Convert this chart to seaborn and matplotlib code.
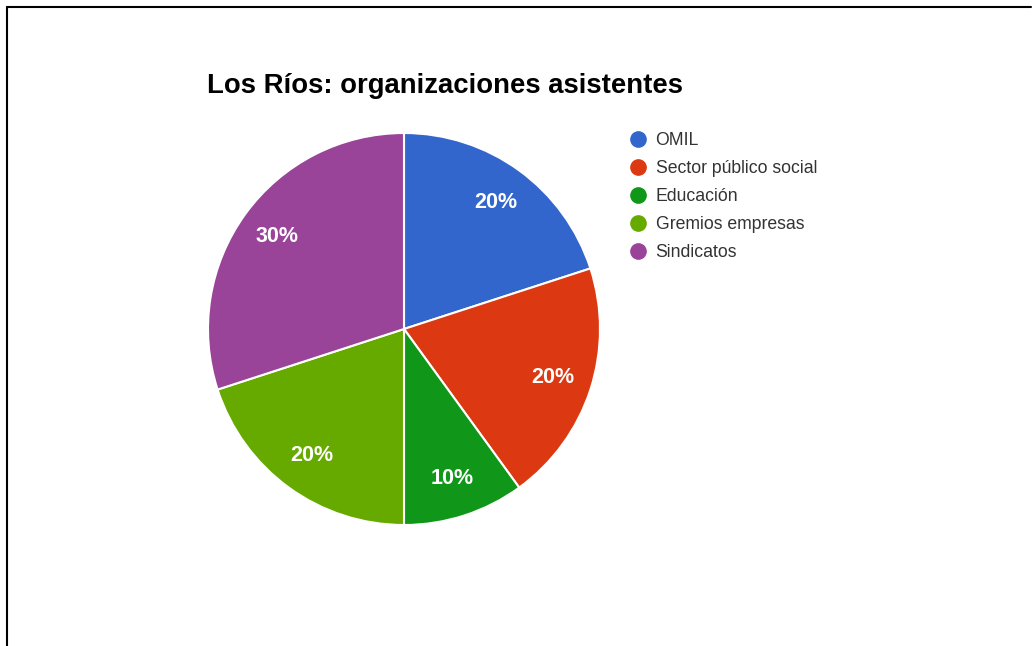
import matplotlib
matplotlib.use("Agg")
import matplotlib.pyplot as plt
import seaborn as sns
from matplotlib.lines import Line2D

categories = ["OMIL", "Sector público social", "Educación", "Gremios empresas", "Sindicatos"]
values = [20, 20, 10, 20, 30]
colors = ["#3366cc", "#dc3912", "#109618", "#66aa00", "#994499"]
title = "Los Ríos: organizaciones asistentes"

sns.set_theme(style="white")
plt.rcParams['font.family'] = ['Liberation Sans', 'DejaVu Sans']

W, H = 1032, 646
fig = plt.figure(figsize=(W / 100, H / 100), dpi=100)
fig.patch.set_facecolor("white")

# pie area: center (404, 329), radius 196 px
ax = fig.add_axes([208 / W, (H - 525) / H, 392 / W, 392 / H])
wedges, texts, autotexts = ax.pie(
    values, colors=colors, startangle=90, counterclock=False,
    autopct=lambda p: f"{p:.0f}%", pctdistance=0.8,
    wedgeprops=dict(edgecolor="white", linewidth=1.5),
    textprops=dict(color="white", fontsize=15.5, fontweight="bold"))
ax.set_aspect("equal")
ax.set_xlim(-1, 1)
ax.set_ylim(-1, 1)

fig.text(207 / W, 1 - 86 / H, title, fontsize=19.8, fontweight="bold",
         color="#000000", va="center", ha="left")

handles = [Line2D([], [], marker="o", linestyle="", markersize=11,
                  markerfacecolor=c, markeredgecolor=c) for c in colors]
fig.legend(handles, categories, loc="upper left",
           bbox_to_anchor=(622 / W, 1 - 125 / H), frameon=False,
           fontsize=12.7, labelcolor="#333333", handletextpad=0.5,
           labelspacing=0.62, handlelength=1.0, borderaxespad=0)

# frame of the screenshot: top and left lines
fig.add_artist(Line2D([7 / W, 1031 / W], [1 - 7 / H, 1 - 7 / H], color="black", linewidth=1.5))
fig.add_artist(Line2D([7 / W, 7 / W], [1 - 7 / H, 0], color="black", linewidth=1.5))

fig.savefig("out.png", dpi=100, facecolor="white")
